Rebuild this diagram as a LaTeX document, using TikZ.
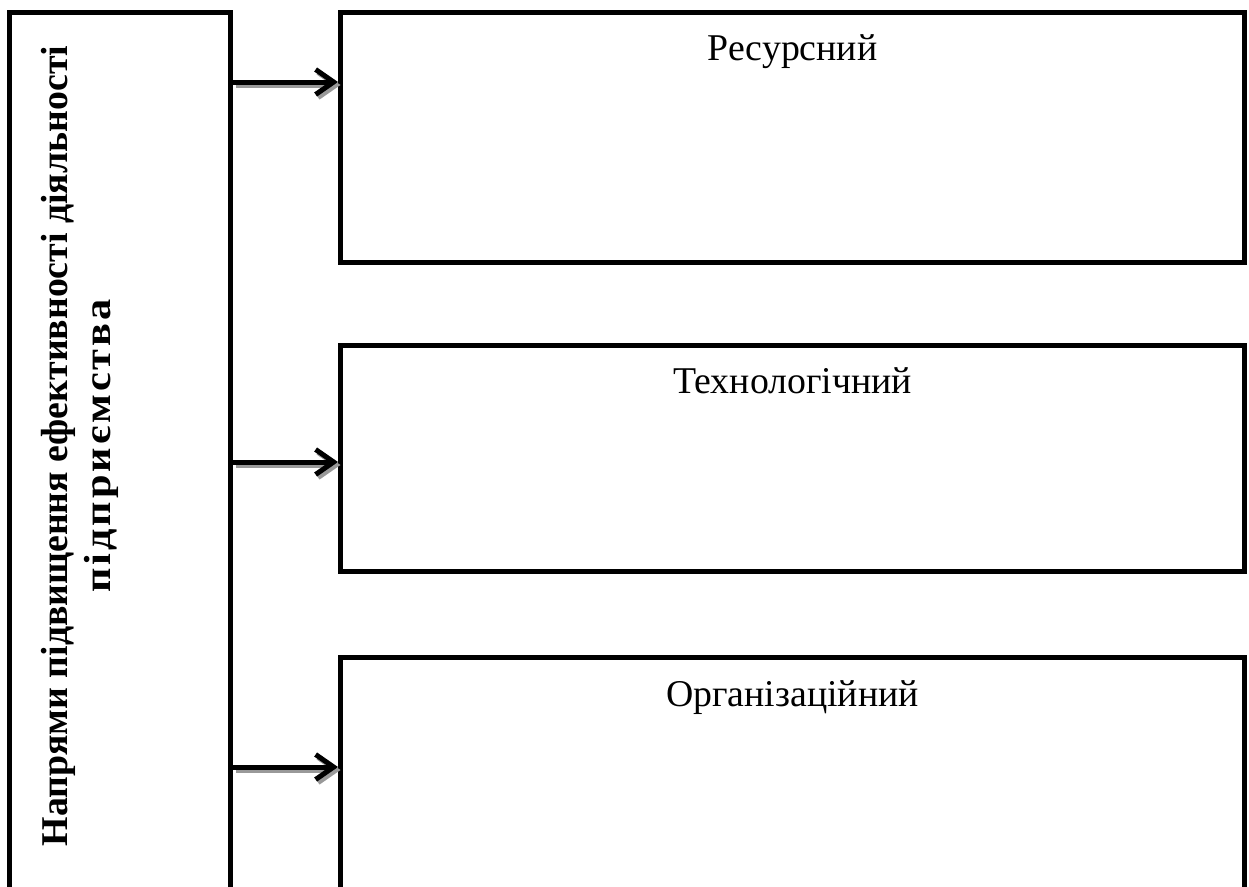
\documentclass[tikz,border=0pt]{standalone}
\usepackage{fontspec}
\usepackage{graphicx}
\setmainfont{Liberation Serif}
\usetikzlibrary{arrows.meta}
\begin{document}
\begin{tikzpicture}[x=1pt,y=-1pt,
  box/.style={draw=black, line width=5pt, inner sep=0pt, anchor=north west},
  lbl/.style={font=\fontsize{37.8}{43}\selectfont, anchor=base},
  arrline/.style={line width=5pt, -{Straight Barb[length=18pt,width=25pt,line width=5pt]}},
  shadowline/.style={arrline, draw=black!40}
]
\useasboundingbox (0,0) rectangle (1249,886);
\clip (0,0) rectangle (1249,886);
\node[box, minimum width=221pt, minimum height=900pt] (L) at (7,10) {};
\node[box, minimum width=904pt, minimum height=250pt] (r1) at (338,10) {};
\node[box, minimum width=904pt, minimum height=226pt] (r2) at (338,343) {};
\node[box, minimum width=904pt, minimum height=400pt] (r3) at (338,655) {};
\node[lbl] (t1) at (792.5,60) {Ресурсний};
\node[lbl] (t2) at (792.5,393) {Технологічний};
\node[lbl] (t3) at (792.5,706) {Організаційний};
\node[rotate=90, align=center, font=\bfseries\fontsize{37.8}{43}\selectfont] (title) at (80,446) {Напрями підвищення ефективності діяльності\\\scalebox{1.12}[1]{\addfontfeature{LetterSpace=7}підприємства}};
\coordinate (a1) at (0,82);
\coordinate (a2) at (0,462);
\coordinate (a3) at (0,767);
\foreach \r/\a in {r1/a1, r2/a2, r3/a3} {
  \draw[shadowline, transform canvas={shift={(2.5pt,-3pt)}}] (L.east |- \a) -- (\r.west |- \a);
  \draw[arrline] (L.east |- \a) -- (\r.west |- \a);
}
\end{tikzpicture}
\end{document}
